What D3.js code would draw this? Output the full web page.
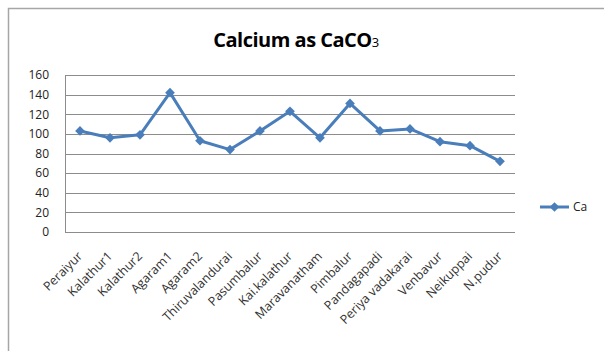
<!DOCTYPE html>
<html>
<head>
<meta charset="utf-8">
<script src="https://cdn.jsdelivr.net/npm/d3@7"></script>
<style>
  body { margin: 0; background: #fff; }
  svg { display: block; font-family: "Open Sans", sans-serif; }
</style>
</head>
<body>
<div id="chart"></div>
<script>
// sampling places along the x axis
var places = ["Peraiyur", "Kalathur1", "Kalathur2", "Agaram1", "Agaram2", "Thiruvalandurai",
    "Pasumbalur", "Kai.kalathur", "Maravanatham", "Pimbalur", "Pandagapadi",
    "Periya vadakarai", "Venbavur", "Neikuppai", "N.pudur"];
// Ca as CaCO3
var caValues = [103, 96, 99, 142, 93, 84, 103, 123, 96, 131, 103, 105, 92, 88, 72];
var yTicks = [0, 20, 40, 60, 80, 100, 120, 140, 160];
var seriesName = "Ca";

var W = 604, H = 351;
var margin = { top: 75, right: 89, bottom: 119, left: 65 };
var width = W - margin.left - margin.right,
    height = H - margin.top - margin.bottom;

var svg = d3.select("#chart").append("svg")
    .attr("width", W)
    .attr("height", H);

// chart border (only top and left edges show)
svg.append("path")
    .attr("d", "M8.5," + H + "V8.5H" + W)
    .attr("fill", "none")
    .attr("stroke", "#a6a6a6")
    .attr("stroke-width", 1.5);

// title with subscript
var title = svg.append("text")
    .attr("x", 296)
    .attr("y", 47)
    .attr("text-anchor", "middle")
    .attr("font-weight", "bold")
    .attr("font-size", "20px")
    .attr("fill", "#000")
    .attr("letter-spacing", "-0.5");
title.append("tspan").text("Calcium as CaCO");
title.append("tspan").attr("font-size", "13px").attr("font-weight", "normal").text("3");

var g = svg.append("g")
    .attr("transform", "translate(" + margin.left + "," + margin.top + ")");

var x = d3.scaleBand()
    .domain(places)
    .range([0, width]);

var y = d3.scaleLinear()
    .domain([0, 160])
    .range([height, 0]);

// gridlines
g.selectAll(".grid")
    .data(yTicks)
    .enter()
    .append("line")
    .attr("class", "grid")
    .attr("x1", 0)
    .attr("x2", width)
    .attr("y1", d => Math.round(y(d)) + 0.5)
    .attr("y2", d => Math.round(y(d)) + 0.5)
    .attr("stroke", "#8c8c8c")
    .attr("stroke-width", 1);

// left axis line
g.append("line")
    .attr("x1", 0.5).attr("x2", 0.5)
    .attr("y1", 0).attr("y2", height)
    .attr("stroke", "#8c8c8c");

var yAxis = g.append("g")
    .call(d3.axisLeft(y).tickValues(yTicks).tickSize(0).tickPadding(16))
    .call(a => a.select(".domain").remove());
yAxis.selectAll("text")
    .attr("font-size", "12px")
    .attr("fill", "#222")
    .attr("font-family", "Open Sans, sans-serif");

var xAxis = g.append("g")
    .attr("transform", "translate(0," + height + ")")
    .call(d3.axisBottom(x).tickSize(0).tickPadding(0))
    .call(a => a.select(".domain").remove());
xAxis.selectAll("text")
    .attr("font-size", "12.5px")
    .attr("fill", "#333")
    .attr("font-family", "Open Sans, sans-serif")
    .attr("text-anchor", "end")
    .attr("dy", 0)
    .attr("transform", "translate(3,25) rotate(-45)");

// series line
var line = d3.line()
    .x((d, i) => x(places[i]) + x.bandwidth() / 2)
    .y(d => y(d));

g.append("path")
    .datum(caValues)
    .attr("d", line)
    .attr("fill", "none")
    .attr("stroke", "#4a7ebb")
    .attr("stroke-width", 3)
    .attr("stroke-linejoin", "round");

var diamond = d3.symbol().type(d3.symbolDiamond2).size(60);

g.selectAll(".pt")
    .data(caValues)
    .enter()
    .append("path")
    .attr("class", "pt")
    .attr("d", diamond)
    .attr("transform", (d, i) => "translate(" + (x(places[i]) + x.bandwidth() / 2) + "," + y(d) + ")")
    .attr("fill", "#4a7ebb");

// legend
var legend = svg.append("g")
    .attr("transform", "translate(540,207)");
legend.append("line")
    .attr("x1", 0).attr("x2", 29)
    .attr("stroke", "#4a7ebb")
    .attr("stroke-width", 3);
legend.append("path")
    .attr("d", diamond)
    .attr("transform", "translate(14.5,0)")
    .attr("fill", "#4a7ebb");
legend.append("text")
    .attr("x", 33)
    .attr("y", 4)
    .attr("font-size", "12px")
    .attr("fill", "#222")
    .text(seriesName);
</script>
</body>
</html>
